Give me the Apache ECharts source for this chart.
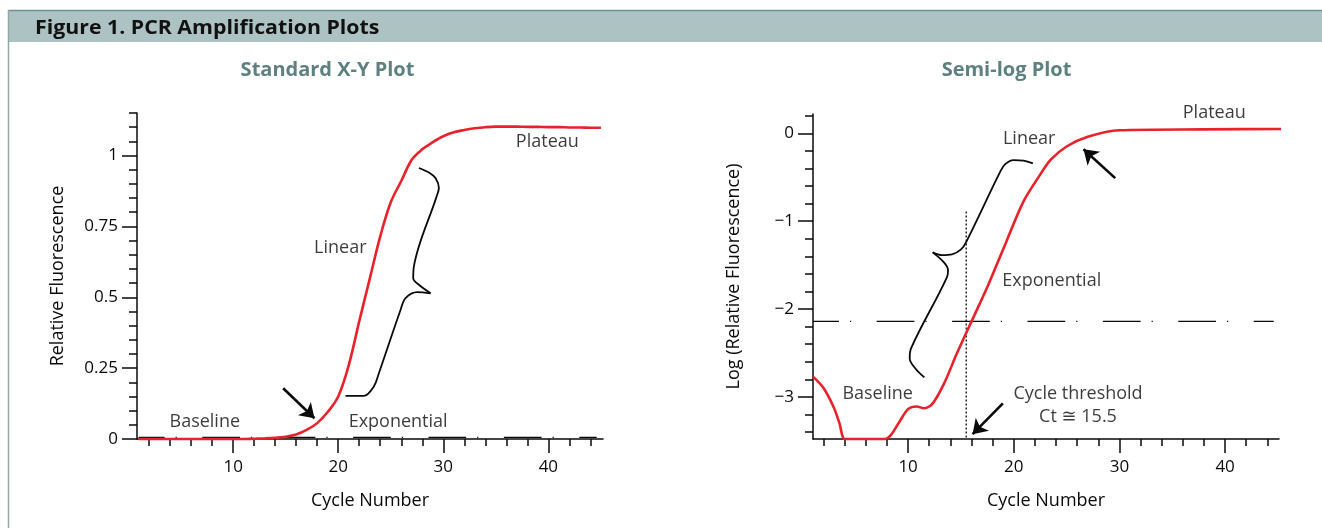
<!DOCTYPE html>
<html>
<head>
<meta charset="utf-8">
<title>Figure 1. PCR Amplification Plots</title>
<script src="https://cdn.jsdelivr.net/npm/echarts@6/dist/echarts.min.js"></script>
<style>
  html, body { margin: 0; padding: 0; background: #ffffff; }
  #chart { width: 1322px; height: 528px; }
</style>
</head>
<body>
<div id="chart"></div>
<script>
// ---- Standard X-Y plot: relative fluorescence per cycle ----
const linearCycles = [1, 2, 3, 4, 5, 6, 7, 8, 9, 10, 11, 12, 13, 14, 15, 16, 17, 18, 19, 20,
  21, 22, 23, 24, 25, 26, 27, 28, 29, 30, 31, 32, 33, 34, 35, 36, 37, 38, 39, 40, 41, 42, 43, 44, 45];
const linearValues = [0, 0, 0, 0, 0, 0, 0, 0, 0, 0, 0, 0.001, 0.002, 0.004, 0.008, 0.016, 0.032, 0.056, 0.095, 0.15,
  0.26, 0.415, 0.565, 0.715, 0.835, 0.91, 0.985, 1.022, 1.047, 1.068, 1.082, 1.09, 1.096, 1.1, 1.102, 1.102, 1.102, 1.101, 1.101, 1.1,
  1.1, 1.099, 1.099, 1.098, 1.098];

// ---- Semi-log plot: log of relative fluorescence per cycle ----
const semilogCycles = [1, 2, 3, 3.5, 4, 5, 6, 7, 7.8, 8.4, 9.2, 10, 10.8, 11.5, 12.3, 13.4, 14.6, 16.2, 17.5, 19,
  20.9, 22.5, 23.5, 25, 27, 30, 38, 46.7];
const semilogValues = [-2.77, -2.9, -3.13, -3.3, -3.48, -3.48, -3.48, -3.48, -3.48, -3.43, -3.28, -3.14, -3.11, -3.13, -3.08, -2.85, -2.51, -2.09, -1.75, -1.32,
  -0.78, -0.47, -0.3, -0.15, -0.04, 0.035, 0.045, 0.05];

// threshold levels and cycle threshold
const linearThreshold = 0.006;
const semilogThreshold = -2.14;
const thresholdSpan = [1, 44.6];
const ctValue = 15.5;

// axis ranges and ticks
const cycleMajorTicks = [10, 20, 30, 40];
const cycleMinorTicks = [2, 4, 6, 8, 12, 14, 16, 18, 22, 24, 26, 28, 32, 34, 36, 38, 42, 44];
const linearMajorTicks = [0, 0.25, 0.5, 0.75, 1];
const linearMinorTicks = [0.05, 0.1, 0.15, 0.2, 0.3, 0.35, 0.4, 0.45, 0.55, 0.6, 0.65, 0.7,
  0.8, 0.85, 0.9, 0.95, 1.05, 1.1, 1.15];
const semilogMajorTicks = [-3, -2, -1, 0];
const semilogMinorTicks = [-3.4, -3.2, -2.8, -2.6, -2.4, -2.2, -1.8, -1.6, -1.4, -1.2,
  -0.8, -0.6, -0.4, -0.2, 0.2];

// phase annotations (data units, text centres)
const linearNotes = [
  { name: 'Plateau', value: [39.9, 1.049] },
  { name: 'Linear', value: [20.2, 0.673] },
  { name: 'Baseline', value: [7.3, 0.061] },
  { name: 'Exponential', value: [25.7, 0.061] }
];
const semilogNotes = [
  { name: 'Plateau', value: [38.97, 0.228] },
  { name: 'Linear', value: [21.46, -0.068] },
  { name: 'Exponential', value: [23.59, -1.679] },
  { name: 'Baseline', value: [7.12, -2.961] },
  { name: 'Cycle threshold\nCt \u2245 ' + ctValue, value: [26.08, -3.098] }
];

// curly brace outlines, two halves meeting at the tip
const linearBraceLow = [[20.7, 0.152], [22.44, 0.152], [23.39, 0.185], [23.87, 0.232], [25.93, 0.455],
  [26.41, 0.497], [27.52, 0.518], [28.79, 0.514]];
const linearBraceHigh = [[28.79, 0.514], [27.68, 0.544], [27.14, 0.567], [27.2, 0.608], [29.36, 0.855],
  [29.58, 0.885], [29.27, 0.92], [28.63, 0.94], [27.68, 0.956]];
const semilogBraceLow = [[11.54, -2.779], [10.69, -2.677], [10.15, -2.563], [10.28, -2.449], [13.69, -1.633],
  [13.78, -1.557], [13.43, -1.474], [12.33, -1.355]];
const semilogBraceHigh = [[12.33, -1.355], [13.21, -1.386], [14.16, -1.378], [15.01, -1.321], [15.51, -1.235],
  [18.72, -0.437], [19.19, -0.35], [19.98, -0.304], [20.93, -0.312], [21.81, -0.342]];

// arrows: [tail, head]
const linearArrow = [[14.76, 0.179], [17.74, 0.073]];
const plateauArrow = [[29.6, -0.51], [26.6, -0.182]];
const ctArrow = [[ctValue + 3.47, -3.075], [ctValue + 0.6, -3.425]];
const ctLineSpan = [-0.89, -3.48];

const FONT = '"Open Sans", "DejaVu Sans", sans-serif';
const INK = '#0a0a0a';
const RED = '#e8222b';
const TICK_FONT = 17;
const WORD_FONT = 18;
const WEIGHT = 500;

const zip = (xs, ys) => xs.map((x, i) => [x, ys[i]]);

function cycleAxes(gridIndex, min, max) {
  return [
    {
      type: 'value', gridIndex, min, max, position: 'bottom',
      name: 'Cycle Number', nameLocation: 'middle', nameGap: 53,
      nameTextStyle: { fontFamily: FONT, fontSize: WORD_FONT, fontWeight: WEIGHT, color: INK },
      splitLine: { show: false },
      axisLine: { show: true, onZero: false, lineStyle: { color: INK, width: 1.5 } },
      axisTick: { show: true, customValues: cycleMajorTicks, length: 14, lineStyle: { color: INK, width: 1.5 } },
      axisLabel: { show: true, customValues: cycleMajorTicks, margin: 20, fontFamily: FONT, fontSize: TICK_FONT,
        fontWeight: WEIGHT, color: INK }
    },
    {
      type: 'value', gridIndex, min, max, position: 'bottom',
      splitLine: { show: false },
      axisLine: { show: false, onZero: false },
      axisTick: { show: true, customValues: cycleMinorTicks, length: 7, lineStyle: { color: INK, width: 1.5 } },
      axisLabel: { show: false }
    }
  ];
}

function valueAxes(gridIndex, min, max, name, major, minor, fmt) {
  return [
    {
      type: 'value', gridIndex, min, max, position: 'left',
      name, nameLocation: 'middle', nameGap: 70,
      nameTextStyle: { fontFamily: FONT, fontSize: WORD_FONT, fontWeight: WEIGHT, color: INK },
      splitLine: { show: false },
      axisLine: { show: true, onZero: false, lineStyle: { color: INK, width: 1.5 } },
      axisTick: { show: true, customValues: major, length: 15, lineStyle: { color: INK, width: 1.5 } },
      axisLabel: { show: true, customValues: major, margin: 19, fontFamily: FONT, fontSize: TICK_FONT,
        fontWeight: WEIGHT, color: INK, formatter: fmt }
    },
    {
      type: 'value', gridIndex, min, max, position: 'left',
      splitLine: { show: false },
      axisLine: { show: false, onZero: false },
      axisTick: { show: true, customValues: minor, length: 8, lineStyle: { color: INK, width: 1.5 } },
      axisLabel: { show: false }
    }
  ];
}

const thresholdStyle = { color: INK, width: 1.3, type: [37.7, 11, 1.2, 25.5], dashOffset: 11.7 };

function curve(xi, yi, data, smooth) {
  return {
    type: 'line', xAxisIndex: xi, yAxisIndex: yi, data, smooth, symbol: 'none', clip: false,
    lineStyle: { color: RED, width: 2.6 }, z: 4, silent: true, animation: false
  };
}
function plainLine(xi, yi, data, lineStyle, smooth) {
  return {
    type: 'line', xAxisIndex: xi, yAxisIndex: yi, data, smooth: smooth || false, symbol: 'none', clip: false,
    lineStyle, z: 3, silent: true, animation: false
  };
}
function arrow(xi, yi, ends) {
  return {
    type: 'lines', coordinateSystem: 'cartesian2d', xAxisIndex: xi, yAxisIndex: yi,
    symbol: ['none', 'arrow'], symbolSize: [11, 14], silent: true, animation: false, z: 5,
    lineStyle: { color: INK, width: 2.6, opacity: 1 },
    data: [{ coords: ends }]
  };
}
function notes(xi, yi, data) {
  return {
    type: 'scatter', xAxisIndex: xi, yAxisIndex: yi, data, symbolSize: 1, clip: false, silent: true,
    animation: false, itemStyle: { color: 'rgba(0,0,0,0)' }, z: 6,
    label: { show: true, position: 'inside', formatter: '{b}', fontFamily: FONT, fontSize: WORD_FONT,
      fontWeight: WEIGHT, color: INK, lineHeight: 23, align: 'center' }
  };
}

const braceStyle = { color: INK, width: 1.8 };

const option = {
  backgroundColor: '#ffffff',
  animation: false,
  textStyle: { fontFamily: FONT },
  grid: [
    { left: 137, top: 113, width: 466, height: 326, containLabel: false, outerBoundsMode: 'none' },
    { left: 813, top: 114, width: 466, height: 325, containLabel: false, outerBoundsMode: 'none' }
  ],
  xAxis: [...cycleAxes(0, 0.85, 45.2), ...cycleAxes(1, 1, 45.1)],
  yAxis: [
    ...valueAxes(0, 0, 1.15, 'Relative Fluorescence', linearMajorTicks, linearMinorTicks, v => String(v)),
    ...valueAxes(1, -3.48, 0.22, 'Log (Relative Fluorescence)', semilogMajorTicks, semilogMinorTicks,
      v => (v < 0 ? '\u2212' + Math.abs(v) : String(v)))
  ],
  graphic: [
    { type: 'rect', shape: { x: 8, y: 10, width: 1314, height: 32 }, style: { fill: '#adc2c3' }, silent: true },
    { type: 'line', shape: { x1: 8, y1: 10.5, x2: 1322, y2: 10.5 }, style: { stroke: '#6f9090', lineWidth: 1.5 }, silent: true },
    { type: 'line', shape: { x1: 8.5, y1: 10, x2: 8.5, y2: 528 }, style: { stroke: '#93a9a9', lineWidth: 1.5 }, silent: true },
    { type: 'text', x: 35, y: 28, scaleX: 1.065, style: { text: 'Figure 1. PCR Amplification Plots', fill: '#111111',
      font: 'bold 20px ' + FONT, textVerticalAlign: 'middle' }, silent: true },
    { type: 'text', x: 327.5, y: 70, style: { text: 'Standard X-Y Plot', fill: '#5e8080',
      font: 'bold 20px ' + FONT, textAlign: 'center', textVerticalAlign: 'middle' }, silent: true },
    { type: 'text', x: 1006.5, y: 70, style: { text: 'Semi-log Plot', fill: '#5e8080',
      font: 'bold 20px ' + FONT, textAlign: 'center', textVerticalAlign: 'middle' }, silent: true }
  ],
  series: [
    // standard plot
    plainLine(0, 0, thresholdSpan.map(x => [x, linearThreshold]), thresholdStyle),
    curve(0, 0, zip(linearCycles, linearValues), 0.35),
    plainLine(0, 0, linearBraceLow, braceStyle, 0.35),
    plainLine(0, 0, linearBraceHigh, braceStyle, 0.35),
    arrow(0, 0, linearArrow),
    notes(0, 0, linearNotes),
    // semi-log plot
    plainLine(2, 2, thresholdSpan.map(x => [x, semilogThreshold]), thresholdStyle),
    plainLine(2, 2, ctLineSpan.map(y => [ctValue, y]), { color: INK, width: 1.3, type: [2, 2] }),
    curve(2, 2, zip(semilogCycles, semilogValues), 0.3),
    plainLine(2, 2, semilogBraceLow, braceStyle, 0.35),
    plainLine(2, 2, semilogBraceHigh, braceStyle, 0.35),
    arrow(2, 2, plateauArrow),
    arrow(2, 2, ctArrow),
    notes(2, 2, semilogNotes)
  ]
};

const chart = echarts.init(document.getElementById('chart'), null, { renderer: 'canvas', width: 1322, height: 528 });
chart.setOption(option);
</script>
</body>
</html>
